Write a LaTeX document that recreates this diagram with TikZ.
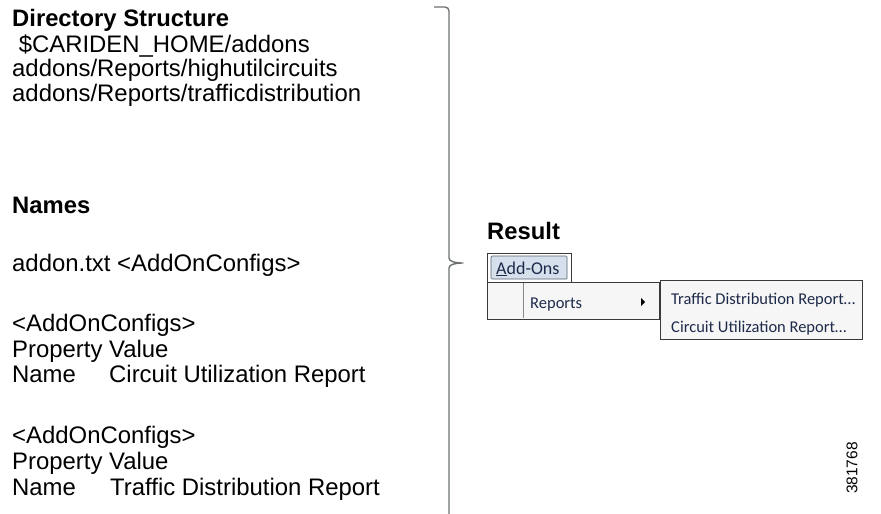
\documentclass[tikz,border=0pt]{standalone}
\usepackage{fontspec}
\setmainfont{Liberation Sans}
\newfontfamily\menufont{Carlito}
\definecolor{bracegray}{HTML}{6E7272}
\definecolor{menutext}{HTML}{1E2A4A}
\definecolor{menubg}{HTML}{F6F6F6}
\definecolor{menuborder}{HTML}{3A3A3A}
\definecolor{tabfill}{HTML}{D6E0EC}
\definecolor{tabborder}{HTML}{5A6474}
\tikzset{
  body/.style={anchor=base west, inner sep=0pt, font=\fontsize{23.9}{25}\selectfont},
  heading/.style={body, font=\fontsize{23.8}{25}\selectfont\bfseries},
  menuitem/.style={anchor=base west, inner sep=0pt, text=menutext, font=\menufont\fontsize{16.5}{18}\selectfont},
  menubox/.style={draw=menuborder, line width=0.9pt, fill=menubg},
}
\begin{document}
\begin{tikzpicture}[x=1pt,y=-1pt]
\useasboundingbox[fill=white] (0,0) rectangle (881,514);

% left column: directory layout and add-on names
\node[heading] (dirhead) at (12,27) {Directory Structure};
\node[body] (dir1) at (12,52) {\ \$CARIDEN\_HOME/addons};
\node[body] (dir2) at (12,76) {addons/Reports/highutilcircuits};
\node[body] (dir3) at (12,101) {addons/Reports/trafficdistribution};

\node[heading] (namehead) at (12,213) {Names};
\node[body] (addontxt) at (12,271) {addon.txt <AddOnConfigs>};

\node[body] (cfg1) at (12,331) {<AddOnConfigs>};
\node[body] (prop1) at (12,357) {Property Value};
\node[body] (name1) at (12,382) {Name};
\node[body] (val1) at (109,382) {Circuit Utilization Report};

\node[body] (cfg2) at (12,443) {<AddOnConfigs>};
\node[body] (prop2) at (12,469) {Property Value};
\node[body] (name2) at (12,495) {Name};
\node[body] (val2) at (110,495) {Traffic Distribution Report};

% brace joining the configuration to its result
\coordinate (bracetop) at (434,7);
\coordinate (bracebot) at (449,514);
\coordinate (bracetip) at (463,263);
\draw[bracegray, line width=1.4pt, line join=round]
  (bracetop) -- (445,7) to[out=0,in=90] (449,11) -- (449,258)
  .. controls (449,261.5) and (455,263) .. (bracetip)
  .. controls (455,263) and (449,264.5) .. (449,268) -- (bracebot);

% result: the Add-Ons menu
\node[heading] (result) at (487,239) {Result};

\draw[menubox] (487,282) rectangle (659,319);
\draw[menuborder!60, line width=0.5pt] (523,283) -- (523,318);
\node[menuitem] (reports) at (530,308) {Reports};
\fill[black] (641,298) -- (645,302) -- (641,306) -- cycle;

\draw[menuborder, line width=0.9pt, fill=white] (487,253) rectangle (571,282);
\draw[tabborder, line width=0.7pt, fill=tabfill, rounded corners=1pt] (491,256) rectangle (567,279);
\node[menuitem, font=\menufont\fontsize{18}{20}\selectfont] (addons) at (496,274) {\underline{A}dd-Ons};

\draw[menubox] (660,280) rectangle (862,339);
\node[menuitem] (traffic) at (671,304) {Traffic Distribution Report…};
\node[menuitem] (circuit) at (671,332) {Circuit Utilization Report…};

% figure number
\node[rotate=90, inner sep=0pt, font=\fontsize{15.5}{17}\selectfont] (fignum) at (852,468) {381768};
\end{tikzpicture}
\end{document}
